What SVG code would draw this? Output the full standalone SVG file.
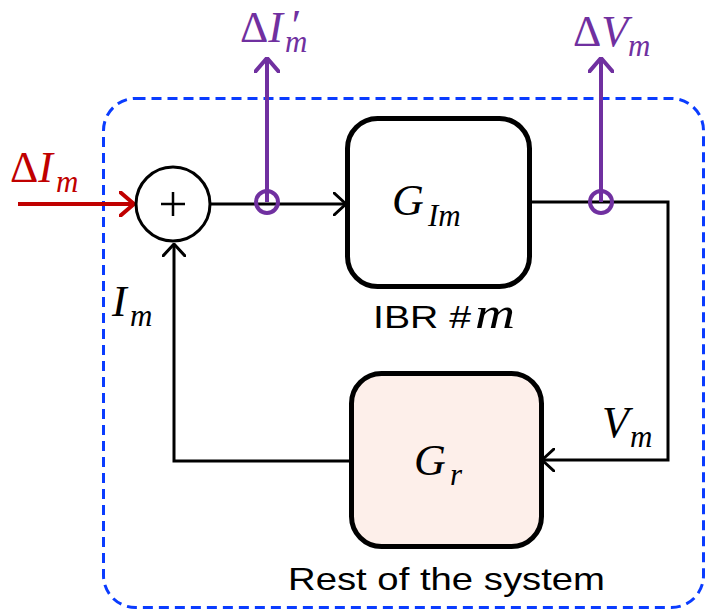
<svg xmlns="http://www.w3.org/2000/svg" width="706" height="610" viewBox="0 0 706 610">
<defs>
<style>
.conn{fill:none;stroke:#000;stroke-width:3}
.blk{fill:#fff;stroke:#000;stroke-width:5}
.math{font-family:"Liberation Serif","DejaVu Serif",serif;font-style:italic;font-size:44px}
.sub{font-size:31px}
.up{font-style:normal}
.sans{font-family:"Liberation Sans",Arial,sans-serif;font-size:32px}
.purple{fill:#7030a0}
</style>
<marker id="ab" viewBox="0 0 14 24" refX="13" refY="12" markerWidth="14" markerHeight="24" markerUnits="userSpaceOnUse" orient="auto">
<path d="M1,1 L13,12 L1,23" fill="none" stroke="#000" stroke-width="3" stroke-linecap="round"/>
</marker>
<marker id="ar" viewBox="0 0 16 26" refX="15" refY="13" markerWidth="16" markerHeight="26" markerUnits="userSpaceOnUse" orient="auto">
<path d="M1,1 L15,13 L1,25" fill="none" stroke="#c00000" stroke-width="4" stroke-linecap="round"/>
</marker>
<marker id="ap" viewBox="0 0 16 26" refX="15" refY="13" markerWidth="16" markerHeight="26" markerUnits="userSpaceOnUse" orient="auto">
<path d="M1,1 L15,13 L1,25" fill="none" stroke="#7030a0" stroke-width="4" stroke-linecap="round"/>
</marker>
</defs>
<rect width="706" height="610" fill="#fff"/>
<g id="boundary">
<rect x="103.5" y="98.5" width="600" height="509" rx="32" fill="none" stroke="#0a3cff" stroke-width="3" stroke-dasharray="10,6"/>
</g>
<g id="connectors">
<line x1="18" y1="204" x2="134" y2="204" stroke="#c00000" stroke-width="4" marker-end="url(#ar)"/>
<line x1="211" y1="204" x2="346" y2="204" class="conn" marker-end="url(#ab)"/>
<polyline points="531,202 668,202 668,460 542,460" class="conn" marker-end="url(#ab)"/>
<polyline points="350,461 174,461 174,244" class="conn" marker-end="url(#ab)"/>
<line x1="267" y1="202" x2="267" y2="58" stroke="#7030a0" stroke-width="4" marker-end="url(#ap)"/>
<line x1="601" y1="202" x2="601" y2="58" stroke="#7030a0" stroke-width="4" marker-end="url(#ap)"/>
<circle cx="267" cy="202" r="11" fill="none" stroke="#7030a0" stroke-width="4"/>
<circle cx="601" cy="202" r="11" fill="none" stroke="#7030a0" stroke-width="4"/>
</g>
<g id="sum">
<circle cx="173" cy="204" r="37" fill="#fff" stroke="#000" stroke-width="3"/>
<path d="M161,204 H185 M173,192 V216" stroke="#000" stroke-width="2.5"/>
</g>
<g id="gim">
<rect x="347.5" y="118.5" width="182" height="168" rx="30" class="blk"/>
<text x="392" y="215" class="math">G<tspan class="sub" x="428" y="226">Im</tspan></text>
<text x="373" y="328" class="sans" textLength="98" lengthAdjust="spacingAndGlyphs">IBR #</text>
<text x="475" y="328" class="math" font-size="34" textLength="40" lengthAdjust="spacingAndGlyphs">m</text>
</g>
<g id="gr">
<rect x="351.5" y="373.5" width="190" height="173" rx="30" fill="#fdefea" stroke="#000" stroke-width="5"/>
<text x="414" y="475" class="math">G<tspan class="sub" x="450" y="485">r</tspan></text>
<text x="288" y="590" class="sans" textLength="317" lengthAdjust="spacingAndGlyphs">Rest of the system</text>
</g>
<g id="labels">
<text x="10" y="182" class="math" fill="#c00000"><tspan class="up">Δ</tspan>I<tspan class="sub" x="56" y="192">m</tspan></text>
<text x="240" y="42" class="math purple"><tspan class="up">Δ</tspan>I<tspan class="sub" x="285" y="52">m</tspan></text>
<text x="289" y="40" class="math purple" font-size="50">′</text>
<text x="573" y="46" class="math purple"><tspan class="up">Δ</tspan>V<tspan class="sub" x="628" y="56">m</tspan></text>
<text x="112" y="316" class="math">I<tspan class="sub" x="130" y="326">m</tspan></text>
<text x="602" y="437" class="math">V<tspan class="sub" x="630" y="447">m</tspan></text>
</g>
</svg>
